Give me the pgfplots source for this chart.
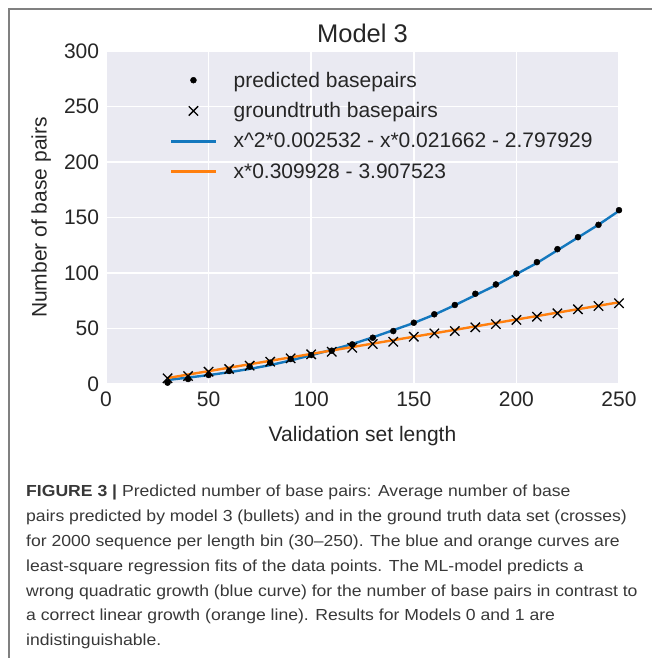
\documentclass[border=0pt]{standalone}
\usepackage{fontspec}
\setmainfont{Liberation Sans}
\newfontfamily\capfont[FakeStretch=1.1]{Liberation Sans}
\usepackage{pgfplots}
\usepackage{pgfplotstable}
\pgfplotsset{compat=1.18}

\definecolor{sbbg}{HTML}{EAEAF2}
\definecolor{txt}{HTML}{262626}
\definecolor{fitblue}{RGB}{20,120,190}
\definecolor{fitorange}{RGB}{255,127,14}

% predicted basepairs (bullets)
\pgfplotstableread{
x y
30 1.2
40 4.5
50 8.1
60 11.7
70 15.6
80 19.2
90 22.5
100 26.1
110 30.0
120 35.7
130 41.7
140 47.7
150 55.2
160 62.8
170 71.2
180 81.3
190 89.7
200 99.6
210 109.8
220 121.5
230 132.3
240 143.4
250 156.6
}\predtab

% groundtruth basepairs (crosses)
\pgfplotstableread{
x y
30 5.1
40 7.2
50 11.1
60 13.5
70 16.5
80 20.1
90 23.1
100 26.7
110 29.1
120 32.7
130 36.0
140 38.1
150 42.6
160 45.6
170 47.7
180 51.1
190 54.0
200 57.7
210 60.6
220 63.7
230 67.3
240 70.3
250 72.7
}\truthtab

% quadratic fit curve
\pgfplotstableread{
x y
30 3.6
40 5.8
50 8.0
60 10.6
70 13.6
80 17.0
90 21.2
100 26.0
110 30.8
120 36.0
130 42.0
140 48.5
150 55.0
160 62.5
170 71.0
180 80.0
190 89.0
200 99.0
210 109.0
220 120.5
230 132.0
240 143.5
250 156.0
}\quadtab

% linear fit line
\pgfplotstableread{
x y
30 5.4
250 73.6
}\lintab

\pgfplotsset{
  lineleg/.style={legend image code/.code={%
    \draw[##1] (0bp,0bp) -- (45bp,0bp);}},
  markleg/.style={legend image code/.code={%
    \draw[##1] plot coordinates {(22bp,0bp)};}},
}

\begin{document}
\begin{tikzpicture}
\useasboundingbox (0,0) rectangle (652bp,-658bp);
\draw[color=gray, line width=1.2bp] (9bp,-658bp) -- (9bp,-9bp) -- (652bp,-9bp);

\begin{axis}[
    at={(106bp,-384bp)}, anchor=south west,
    scale only axis, width=513bp, height=333bp,
    xmin=0, xmax=250, ymin=0, ymax=300,
    xtick={0,50,...,250}, ytick={0,50,...,300},
    axis background/.style={fill=sbbg},
    axis line style={draw=none},
    tick style={draw=none},
    grid=major,
    grid style={white, line width=1.5bp},
    font=\fontsize{21bp}{25bp}\selectfont,
    every axis label/.append style={text=txt},
    ticklabel style={text=txt, inner sep=0pt},
    /pgf/number format/assume math mode=true,
    yticklabel style={anchor=east, xshift=-6.7bp},
    xticklabel style={anchor=north, yshift=-8bp},
    title={Model 3},
    title style={at={(0.5,1)}, anchor=base, yshift=3bp, text=txt,
                 font=\fontsize{25.5bp}{30bp}\selectfont},
    xlabel={Validation set length},
    xlabel style={at={(axis description cs:0.5,0)}, anchor=base, yshift=-57bp},
    ylabel={Number of base pairs},
    ylabel style={at={(axis description cs:0,0.5)}, anchor=base, yshift=59.3bp},
    legend style={draw=none, fill=none, at={(rel axis cs:0.119,0.944)},
                  anchor=north west, column sep=16bp, row sep=14bp,
                  nodes={inner sep=0pt, text=txt},
                  font=\fontsize{21bp}{25bp}\selectfont},
    legend cell align=left,
]
\addplot[line width=2.4bp, color=fitblue, lineleg, forget plot] table[x=x, y=y] {\quadtab};
\addplot[line width=2.4bp, color=fitorange, lineleg, forget plot] table[x=x, y=y] {\lintab};
\addplot[only marks, mark=*, mark size=3bp, black, markleg] table[x=x, y=y] {\predtab};
\addlegendentry{predicted basepairs}
\addplot[only marks, mark=x, mark size=6.6bp, black, line width=1.3bp, markleg] table[x=x, y=y] {\truthtab};
\addlegendentry{groundtruth basepairs}
\addlegendimage{line width=2.4bp, color=fitblue, lineleg}
\addlegendentry{x\^{}2*0.002532 - x*0.021662 - 2.797929}
\addlegendimage{line width=2.4bp, color=fitorange, lineleg}
\addlegendentry{x*0.309928 - 3.907523}
\end{axis}

\begin{scope}[every node/.style={anchor=base west, inner sep=0pt,
    text=black!78, font=\capfont\fontsize{16bp}{20bp}\selectfont}]
\node at (26bp,-496bp) {\textbf{FIGURE 3 |} Predicted number of base pairs: Average number of base};
\node at (26bp,-521bp) {pairs predicted by model 3 (bullets) and in the ground truth data set (crosses)};
\node at (26bp,-546bp) {for 2000 sequence per length bin (30–250). The blue and orange curves are};
\node at (26bp,-571bp) {least-square regression fits of the data points. The ML-model predicts a};
\node at (26bp,-596bp) {wrong quadratic growth (blue curve) for the number of base pairs in contrast to};
\node at (26bp,-620.5bp) {a correct linear growth (orange line). Results for Models 0 and 1 are};
\node at (26bp,-645bp) {indistinguishable.};
\end{scope}
\end{tikzpicture}
\end{document}
